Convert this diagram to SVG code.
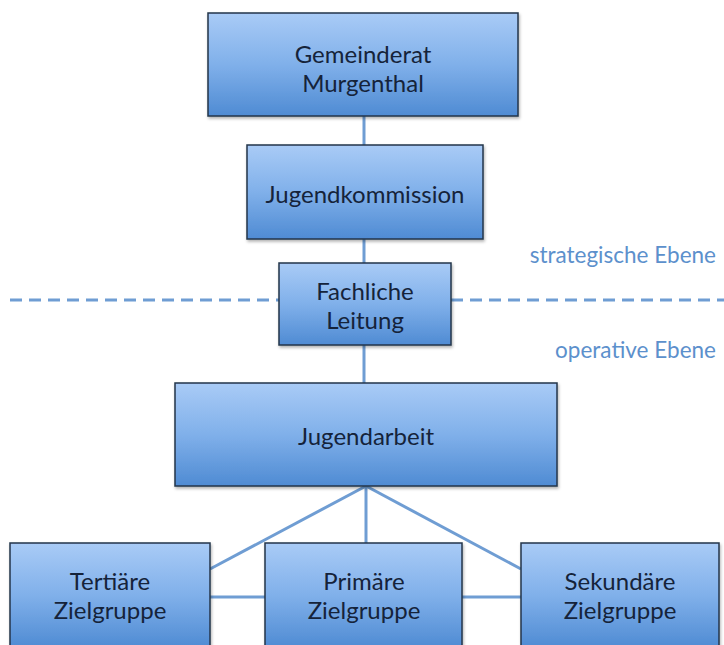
<svg xmlns="http://www.w3.org/2000/svg" width="724" height="645" viewBox="0 0 724 645">
<defs>
<linearGradient id="g" x1="0" y1="0" x2="0" y2="1">
<stop offset="0" stop-color="#a9cbf6"/>
<stop offset="0.5" stop-color="#80b0ea"/>
<stop offset="1" stop-color="#4f8bd3"/>
</linearGradient>
<filter id="sh" x="-10%" y="-10%" width="130%" height="130%">
<feDropShadow dx="1" dy="2" stdDeviation="1.5" flood-color="#000" flood-opacity="0.3"/>
</filter>
</defs>
<style>
.box{fill:url(#g);stroke:#25354a;stroke-width:1.5;filter:url(#sh)}
.t{font-family:Lato,"Open Sans","Liberation Sans",sans-serif;font-size:24px;fill:#15233a;text-anchor:middle}
.lv{font-family:Lato,"Open Sans","Liberation Sans",sans-serif;font-size:22.5px;fill:#5c90cc;text-anchor:end}
.c{stroke:#6f9dd3;stroke-width:3;fill:none}
</style>
<rect width="724" height="645" fill="#fff"/>
<g id="connectors">
<line class="c" x1="364" y1="116" x2="364" y2="145"/>
<line class="c" x1="364" y1="239" x2="364" y2="263"/>
<line class="c" x1="364" y1="345" x2="364" y2="383"/>
<line class="c" x1="366" y1="486" x2="366" y2="543"/>
<line class="c" x1="366" y1="486" x2="210" y2="569"/>
<line class="c" x1="366" y1="486" x2="521" y2="569"/>
<line class="c" x1="210" y1="597" x2="265" y2="597"/>
<line class="c" x1="462" y1="597" x2="521" y2="597"/>
</g>
<g id="divider">
<line x1="10" y1="300" x2="279" y2="300" stroke="#6f9dd3" stroke-width="3" stroke-dasharray="12,7"/>
<line x1="451" y1="300" x2="724" y2="300" stroke="#6f9dd3" stroke-width="3" stroke-dasharray="12,7"/>
<text class="lv" x="716" y="263">strategische Ebene</text>
<text class="lv" x="716" y="358">operative Ebene</text>
</g>
<g id="gemeinderat">
<rect class="box" x="208" y="13" width="310" height="103"/>
<text class="t" x="363" y="63">Gemeinderat</text>
<text class="t" x="363" y="92">Murgenthal</text>
</g>
<g id="jugendkommission">
<rect class="box" x="247" y="145" width="236" height="94"/>
<text class="t" x="365" y="203">Jugendkommission</text>
</g>
<g id="fachliche">
<rect class="box" x="279" y="263" width="172" height="82"/>
<text class="t" x="365" y="300">Fachliche</text>
<text class="t" x="365" y="329">Leitung</text>
</g>
<g id="jugendarbeit">
<rect class="box" x="175" y="383" width="382" height="103"/>
<text class="t" x="366" y="445">Jugendarbeit</text>
</g>
<g id="tertiaer">
<rect class="box" x="10" y="543" width="200" height="105"/>
<text class="t" x="110" y="590">Tertiäre</text>
<text class="t" x="110" y="619">Zielgruppe</text>
</g>
<g id="primaer">
<rect class="box" x="265" y="543" width="197" height="105"/>
<text class="t" x="364" y="590">Primäre</text>
<text class="t" x="364" y="619">Zielgruppe</text>
</g>
<g id="sekundaer">
<rect class="box" x="521" y="543" width="198" height="105"/>
<text class="t" x="620" y="590">Sekundäre</text>
<text class="t" x="620" y="619">Zielgruppe</text>
</g>
</svg>
